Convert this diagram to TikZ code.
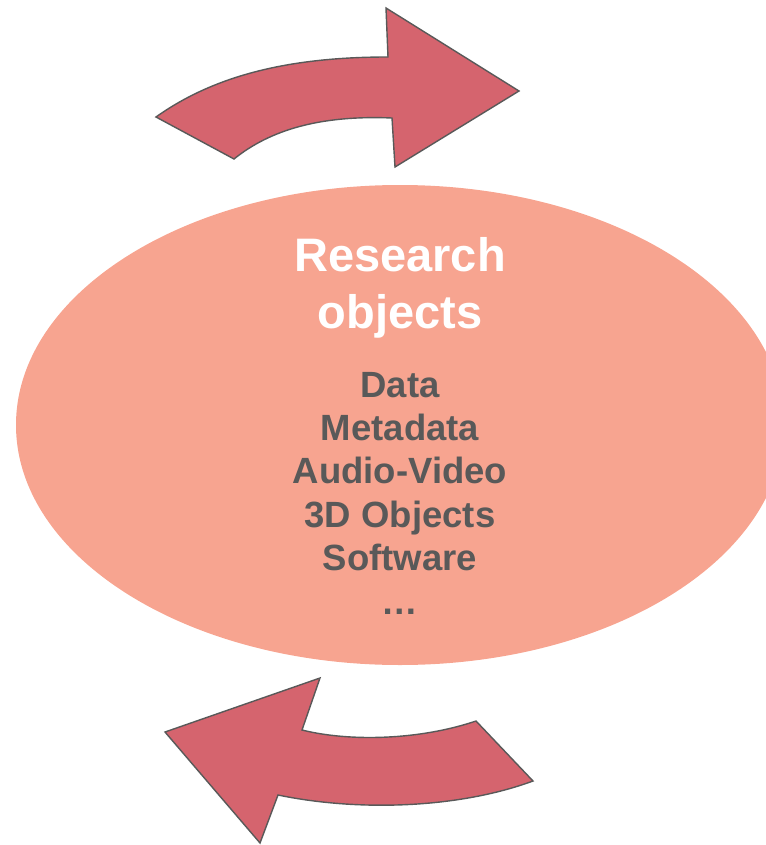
\documentclass[tikz,border=0pt]{standalone}
\usepackage{fontspec}
\setmainfont{Liberation Sans}
\usepackage{tikz}
\usetikzlibrary{shapes.geometric}
\definecolor{blobfill}{HTML}{F7A490}
\definecolor{arrowfill}{HTML}{D5646E}
\definecolor{darkgrey}{HTML}{595959}
\tikzstyle{bigarrow}=[fill=arrowfill, draw=darkgrey, line width=1.4pt, line join=miter]
\tikzstyle{titleline}=[text=white, inner sep=0pt, anchor=base, font=\fontsize{47}{57}\selectfont\bfseries]
\tikzstyle{listline}=[text=darkgrey, inner sep=0pt, anchor=base, font=\fontsize{36.5}{43.5}\selectfont\bfseries]
\newcommand{\listline}{\node[listline]}

\begin{document}
\begin{tikzpicture}[x=1pt, y=-1pt]
            \useasboundingbox (0,0) rectangle (765,845);

            % the big blob
            \node[ellipse, fill=blobfill, inner sep=0pt,
                  minimum width=768pt, minimum height=480pt] (blob) at (400,425) {};

            \node[titleline] (title1) at (400,271) {Research};
            \node[titleline] (title2) at (400,328) {objects};

            \listline (data) at (400,397) {Data};
            \listline (meta) at (400,440.4) {Metadata};
            \listline (av) at (400,483.8) {Audio-Video};
            \listline (obj3d) at (400,527.2) {3D Objects};
            \listline (soft) at (400,570.6) {Software};
            \listline (more) at (400,614) {…};

            % upper arrow, pointing right
            \draw[bigarrow] (156,117) .. controls (215,75) and (290,57) .. (388,57)
                -- (386,8) -- (519,91) -- (395,167) -- (392,118)
                .. controls (320,115) and (270,130) .. (234,159) -- cycle;

            % lower arrow, pointing left
            \draw[bigarrow] (165,732) -- (320,678) -- (302,730)
                .. controls (350,742) and (420,740) .. (476,721)
                -- (533,781)
                .. controls (460,808) and (360,812) .. (278,795)
                -- (260,843) -- cycle;
        \end{tikzpicture}
\end{document}
